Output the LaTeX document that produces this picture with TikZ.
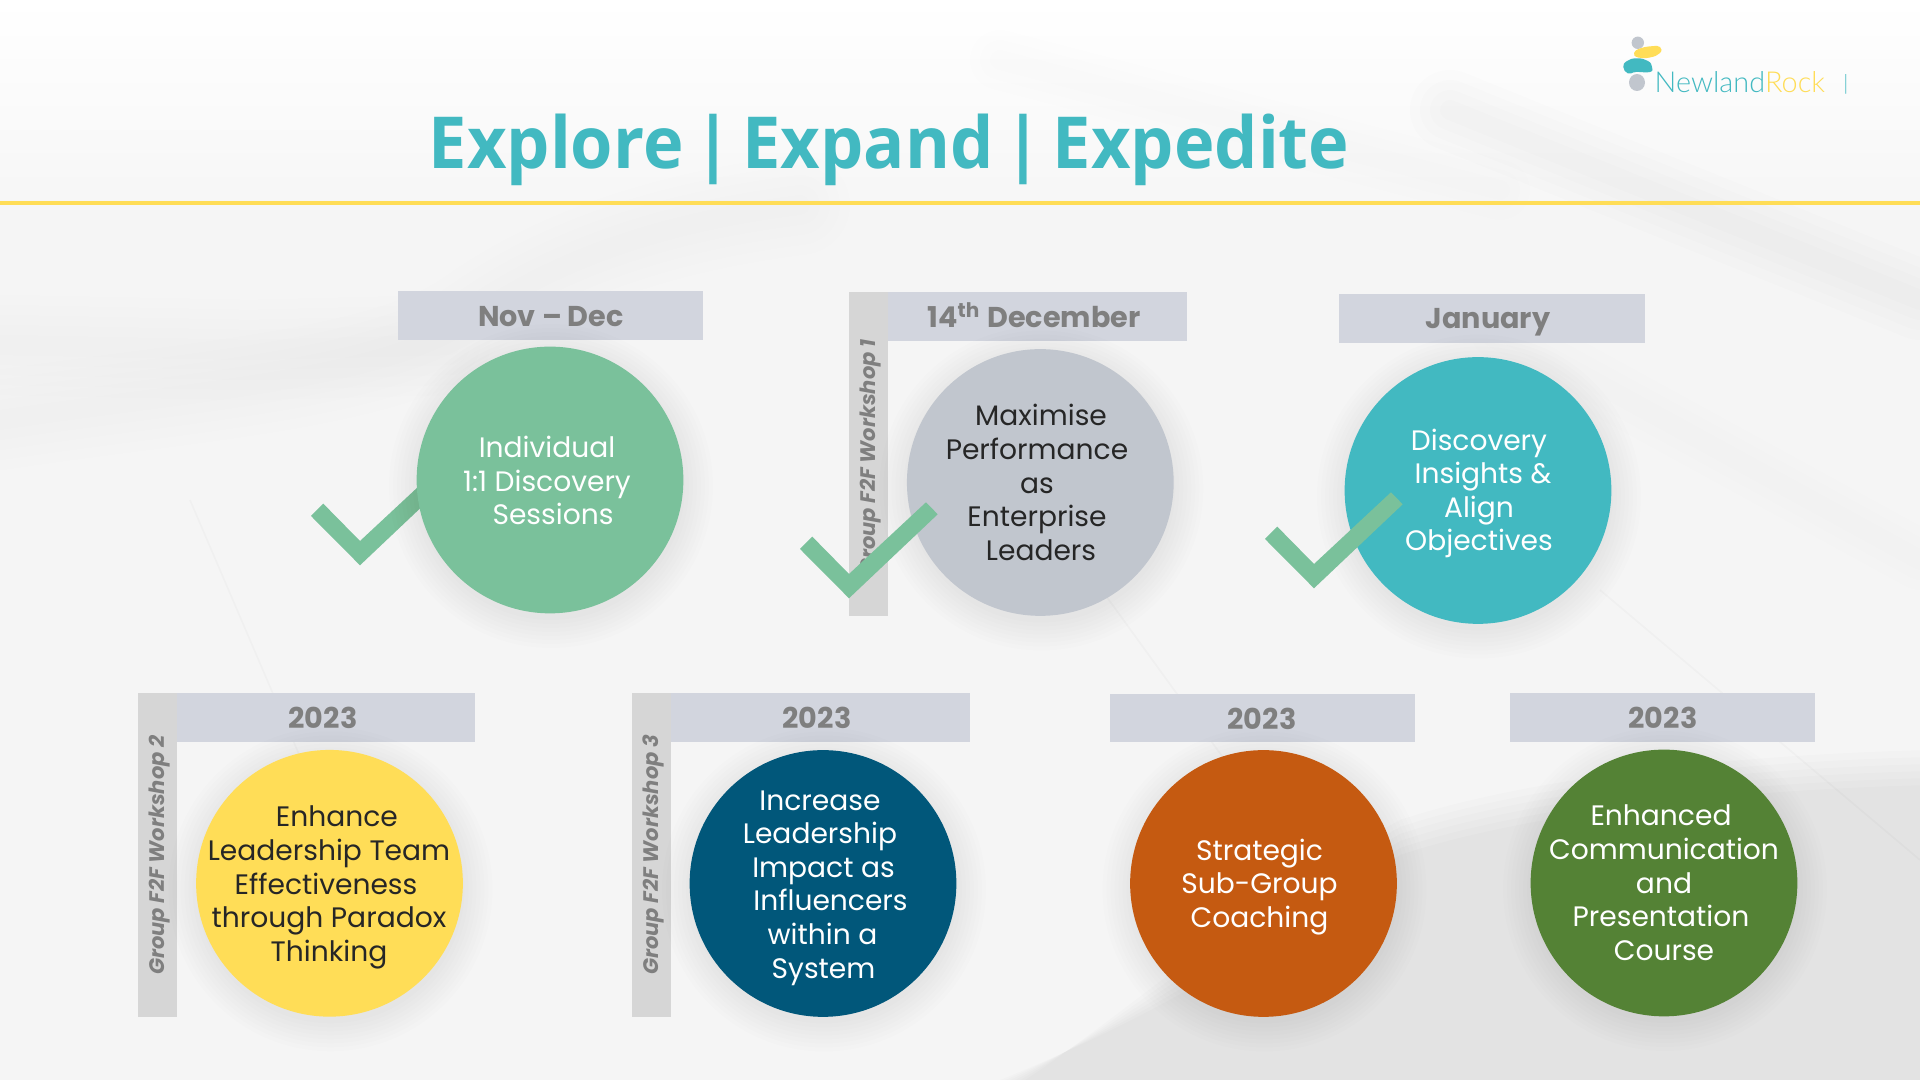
\documentclass[tikz,border=0pt]{standalone}
\usepackage{fontspec}
\setmainfont{Poppins}
\newfontfamily\titlefont{Open Sans}[WordSpace=0.6,FakeStretch=0.955]
\newfontfamily\logofont{Lato}[UprightFont=* Light]
\usetikzlibrary{shapes.geometric}
\definecolor{teal}{HTML}{42B9C1}
\definecolor{mint}{HTML}{7AC19B}
\definecolor{sun}{HTML}{FFDD57}
\definecolor{slate}{HTML}{C1C6CE}
\definecolor{navy}{HTML}{01577A}
\definecolor{rust}{HTML}{C55A11}
\definecolor{moss}{HTML}{548235}
\definecolor{labelbg}{HTML}{D2D5DE}
\definecolor{barbg}{HTML}{D6D6D6}
\definecolor{labeltx}{HTML}{7F7F7F}
\definecolor{inktx}{HTML}{262626}
\definecolor{peach}{HTML}{E8B88A}
\def\px{*0.2845pt}
\newcommand\shft[1]{\hspace*{#1pt}}
\newcommand\softband[3]{%
  \foreach \w in {20,40,...,#1} {\draw[line width=\w\px,opacity=#2,line cap=round,line join=round,#3] \bandpath;}}
\tikzset{
  disc/.style={circle,fill=#1,minimum size=266.6\px,inner sep=0pt,outer sep=0pt},
  body/.style={inner sep=0pt,outer sep=0pt,align=center,text=#1,font=\fontsize{8}{9.56}\selectfont},
  head/.style={inner sep=0pt,outer sep=0pt,anchor=base,text=labeltx,font=\fontsize{8.15}{9}\selectfont\bfseries},
  side/.style={inner sep=0pt,outer sep=0pt,text=labeltx,rotate=90,anchor=base west,font=\fontsize{5.98}{7}\selectfont\bfseries\itshape},
  labelbox/.style 2 args={rectangle,fill=labelbg,inner sep=0pt,outer sep=0pt,anchor=north west,minimum width=#1\px,minimum height=#2\px},
  barbox/.style={rectangle,fill=barbg,inner sep=0pt,outer sep=0pt,anchor=north west,minimum width=39\px,minimum height=#1\px},
  tick/.pic={\fill[mint] (-36.7,-61.6) -- (-49,-49.3) -- (0,0) -- (88.7,-84) -- (77,-96) -- (0,-24.3) -- cycle;}
}
\newcommand\halo[1]{%
  \foreach \r in {162,158,154,150,146,142,138,134} {\fill[black,opacity=0.0085] (#1)++(1,6) circle (\r);}}
\begin{document}
\begin{tikzpicture}[x=0.01cm,y=-0.01cm]
\useasboundingbox (0,0) rectangle (1920,1080);
\begin{scope}
\clip (0,0) rectangle (1920,1080);
% faded photograph
\fill[white!96!black] (0,0) rectangle (1920,1080);
\shade[top color=white,bottom color=white!96.5!black] (0,0) rectangle (1920,210);
\def\bandpath{(0,345) -- (250,350) -- (450,345)}
\softband{100}{0.006}{peach}
\def\bandpath{(0,420) .. controls (200,390) and (380,380) .. (470,320) .. controls (540,270) and (640,225) .. (800,205)}
\softband{100}{0.004}{black}
\def\bandpath{(1450,110) -- (1920,300)}
\softband{80}{0.006}{black}
\def\bandpath{(1000,60) -- (1500,190)}
\softband{60}{0.002}{black}
\def\bandpath{(1500,330) -- (1920,560)}
\softband{60}{0.002}{black}
\foreach \o in {0,7,14,21,28,35} {
  \fill[black,opacity=0.011] (1010-\o,1090) .. controls (1120+\o,1020) and (1250+\o,900+\o) .. (1400,820+\o) .. controls (1520,780+\o) and (1720,755+\o) .. (1930,750+\o) -- (1930,1090) -- cycle;}
\draw[black,opacity=.02,line width=.5pt] (1080,560) -- (1290,850);
\draw[black,opacity=.02,line width=.5pt] (190,500) -- (310,780);
\draw[black,opacity=.02,line width=.5pt] (1600,590) -- (1920,860);
\end{scope}
% rule and title
\coordinate (ruleL) at (0,203.5);
\coordinate (ruleR) at (1920,203.5);
\draw[sun,line width=4\px] (ruleL) -- (ruleR);
\node[anchor=base west,inner sep=0pt,text=teal,font=\titlefont\fontsize{20.4}{24}\selectfont\bfseries] (title) at (428,168.3) {Explore | Expand | Expedite};
% logo
\fill[slate] (1637.8,42.8) ellipse [x radius=6.2,y radius=6.2];
\fill[slate] (1637,82.5) ellipse [x radius=8,y radius=8.5];
\fill[sun] plot[smooth cycle,tension=.8] coordinates {(1634,53) (1640,48.5) (1652,46.2) (1660,47) (1660,53) (1650,57.5) (1638,57.5)};
\fill[teal] plot[smooth cycle,tension=.8] coordinates {(1623.3,67) (1627,61) (1637,58.3) (1648,61) (1652,67) (1650,72) (1636,72) (1628,73.5)};
\node[anchor=base west,inner sep=0pt,font=\logofont\fontsize{8.2}{10}\selectfont] (logo) at (1654,92.5) {\textcolor{teal}{Newland}\textcolor{sun}{Rock}};
\node[anchor=base,inner sep=0pt,text=teal,font=\logofont\fontsize{6}{8}\selectfont] (pipe) at (1846,91) {|};
% label boxes
\node[labelbox={305}{48}] (b1) at (398,291.5) {};
\node[labelbox={299}{48.7}] (b2) at (888,292) {};
\node[barbox=323.7] (v2) at (849,292) {};
\node[labelbox={306}{49}] (b3) at (1338.5,294) {};
\node[labelbox={298}{48.7}] (b4) at (177,693) {};
\node[barbox=323.7] (v4) at (138,693) {};
\node[labelbox={299}{48.7}] (b5) at (671,693) {};
\node[barbox=323.7] (v5) at (632,693) {};
\node[labelbox={305}{48}] (b6) at (1109.5,694) {};
\node[labelbox={305}{48.7}] (b7) at (1510,693) {};
% side captions
\node[side] (s2) at (875,575) {Group F2F Workshop 1};
\node[side] (s4) at (164,975) {Group F2F Workshop 2};
\node[side] (s5) at (658,975) {Group F2F Workshop 3};
% heads
\node[head] (h1) at (551,327) {Nov – Dec};
\node[head] (h2) at (1034,327.5) {14\textsuperscript{th} December};
\node[head] (h3) at (1488,328.5) {January};
\node[head] (h4) at (323,728.2) {2023};
\node[head] (h5) at (817,728.2) {2023};
\node[head] (h6) at (1262,729.5) {2023};
\node[head] (h7) at (1663,728.2) {2023};
% first tick lies behind its disc
\pic at (360,565.3) {tick};
% shadows
\halo{550,480}\halo{1040.3,482.5}\halo{1478,490.5}
\halo{329.5,883.3}\halo{823,883.5}\halo{1263.5,883.5}\halo{1664,883}
% discs
\node[disc=mint] (c1) at (550,480) {};
\node[disc=slate] (c2) at (1040.3,482.5) {};
\node[disc=teal] (c3) at (1478,490.5) {};
\node[disc=sun] (c4) at (329.5,883.3) {};
\node[disc=navy] (c5) at (823,883.5) {};
\node[disc=rust] (c6) at (1263.5,883.5) {};
\node[disc=moss] (c7) at (1664,883) {};
% disc texts
\node[body=white] (t1) at (550,480.5) {\shft{-1.7}Individual\\\shft{-1.7}1:1 Discovery\\\shft{1.7}Sessions};
\node[body=inktx] (t2) at (1037,482.5) {\shft{2.3}Maximise\\Performance\\as\\Enterprise\\\shft{2.3}Leaders};
\node[body=white] (t3) at (1479,493.5) {Discovery\\\shft{2.3}Insights \&\\Align\\Objectives};
\node[body=inktx] (t4) at (329,887.5) {\shft{4.5}Enhance\\Leadership Team\\\shft{-1.7}Effectiveness\\through Paradox\\Thinking};
\node[body=white] (t5) at (823.5,888) {\shft{-2}Increase\\\shft{-2}Leadership\\Impact as\\\shft{4}Influencers\\\shft{-.6}within a\\System};
\node[body=white] (t6) at (1259.5,887) {Strategic\\Sub-Group\\Coaching};
\node[body=white] (t7) at (1664,882.8) {\shft{-1.7}Enhanced\\Communication\\and\\\shft{-1.7}Presentation\\Course};
% ticks on top
\pic at (849,598.3) {tick};
\pic at (1314,588.3) {tick};
\end{tikzpicture}
\end{document}
